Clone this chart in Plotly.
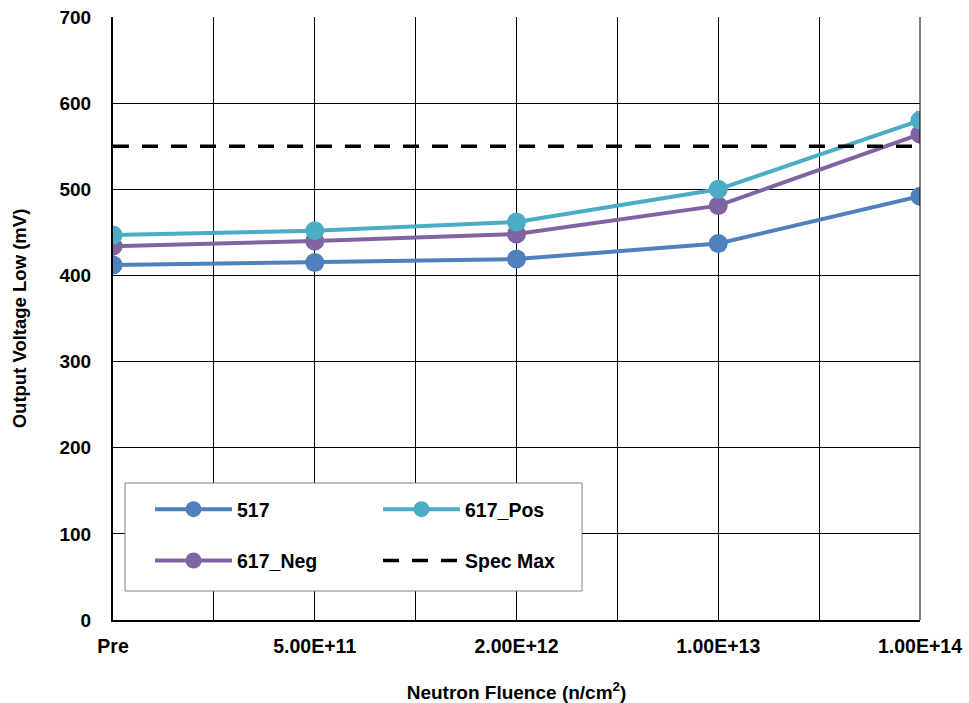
import plotly.graph_objects as go

categories = ["Pre", "5.00E+11", "2.00E+12", "1.00E+13", "1.00E+14"]
s517 = [412, 415, 419, 437, 492]
s617_pos = [447, 452, 462, 500, 580]
s617_neg = [434, 440, 448, 481, 564]
spec_max = [550, 550, 550, 550, 550]
pos_err = [0, 0, 0, 0, 10]

xpos = list(range(len(categories)))
FONT = "Liberation Sans, Arial, sans-serif"

fig = go.Figure()
fig.add_trace(go.Scatter(x=xpos, y=s517, name="517", mode="lines+markers",
                         line=dict(color="#4F81BD", width=4),
                         marker=dict(size=19, color="#4F81BD"), legend="legend"))
fig.add_trace(go.Scatter(x=xpos, y=s617_neg, name="617_Neg", mode="lines+markers",
                         line=dict(color="#8064A2", width=4),
                         marker=dict(size=19, color="#8064A2"), legend="legend"))
fig.add_trace(go.Scatter(x=xpos, y=s617_pos, name="617_Pos", mode="lines+markers",
                         line=dict(color="#4BACC6", width=4),
                         marker=dict(size=19, color="#4BACC6"),
                         error_y=dict(type="data", array=pos_err, arrayminus=[0]*5,
                                      color="#808080", thickness=1, width=4),
                         legend="legend2"))
fig.add_trace(go.Scatter(x=xpos, y=spec_max, name="Spec Max", mode="lines",
                         line=dict(color="black", width=3.5, dash="16px,13px"),
                         legend="legend2"))
for i, tr in enumerate(fig.data):
    tr.legendgroup = f"g{i}"

def px_x(p):
    return (p - 113) / 807

def px_y(p):
    return (620 - p) / 603

fig.add_shape(type="rect", xref="paper", yref="paper",
              x0=px_x(125), x1=px_x(582), y0=px_y(591), y1=px_y(483),
              line=dict(color="#808080", width=1), fillcolor="white", layer="above")

legend_common = dict(bgcolor="rgba(0,0,0,0)", borderwidth=0, orientation="v",
                     font=dict(family=FONT, size=19.5, color="black", weight="bold"),
                     tracegroupgap=23, xanchor="left", yanchor="top",
                     itemsizing="trace", itemwidth=77)
fig.update_layout(
    legend=dict(x=px_x(150), y=px_y(490), **legend_common),
    legend2=dict(x=px_x(378), y=px_y(490), **legend_common),
)

fig.update_layout(
    width=969, height=703,
    margin=dict(l=113, r=49, t=17, b=83, autoexpand=False),
    plot_bgcolor="white", paper_bgcolor="white",
    font=dict(family=FONT, size=19, color="black", weight="bold"),
    showlegend=True,
    xaxis=dict(
        range=[0, 4], tickvals=xpos, ticktext=categories,
        showgrid=True, gridcolor="black", gridwidth=1,
        minor=dict(tickvals=[0.5, 1.5, 2.5, 3.5], showgrid=True,
                   gridcolor="black", gridwidth=1),
        showline=True, linecolor="black", linewidth=2, mirror=False,
        ticks="", ticklabelstandoff=8, automargin=False,
        tickfont=dict(family=FONT, size=19.5, weight="bold"),
        title=dict(text="Neutron Fluence (n/cm<sup>2</sup>)",
                   font=dict(family=FONT, size=19, weight="bold"), standoff=30),
        zeroline=False,
    ),
    yaxis=dict(
        range=[0, 700], tickvals=[0, 100, 200, 300, 400, 500, 600, 700],
        showgrid=True, gridcolor="black", gridwidth=1,
        showline=True, linecolor="black", linewidth=2,
        ticks="", ticklabelstandoff=16, automargin=False,
        tickfont=dict(family=FONT, size=19, weight="bold"),
        title=dict(text="Output Voltage Low (mV)",
                   font=dict(family=FONT, size=18.5, weight="bold"), standoff=28),
        zeroline=False,
    ),
)
fig.add_shape(type="line", xref="paper", yref="paper", x0=1, x1=1, y0=0, y1=1,
              line=dict(color="black", width=1))

fig.write_html("out.html", config={"displayModeBar": False},
               post_script="document.body.style.margin='0';")
